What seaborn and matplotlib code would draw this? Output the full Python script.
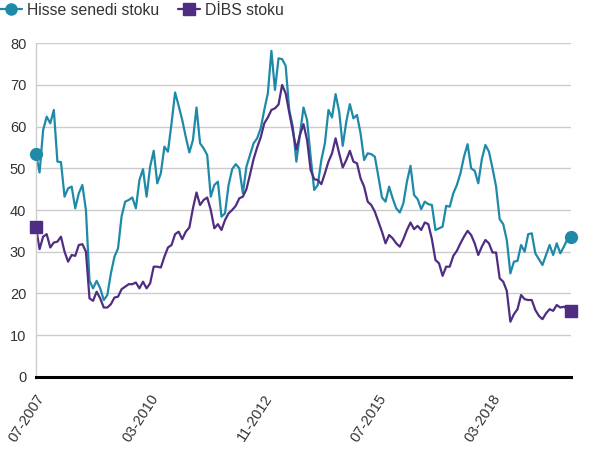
import matplotlib
matplotlib.use("Agg")
import matplotlib.pyplot as plt
import matplotlib.transforms as mtransforms
from matplotlib.lines import Line2D
import seaborn as sns
import pandas as pd
import numpy as np

# ---- data (monthly, 07-2007 .. 01-2020) ----
start_month = "2007-07-01"
series_names = ["Hisse senedi stoku", "DİBS stoku"]

hisse = [
    53.4, 49.0, 59.2, 62.4, 60.8, 64.0, 51.6, 51.5, 43.2, 45.2,
    45.6, 40.4, 44.0, 46.0, 40.0, 23.0, 21.2, 23.0, 21.2, 18.4,
    19.6, 24.8, 28.8, 30.8, 38.5, 42.0, 42.4, 43.0, 40.4, 47.2,
    49.8, 43.2, 50.4, 54.2, 46.4, 48.8, 55.2, 54.0, 60.8, 68.2,
    65.0, 61.6, 57.5, 53.8, 56.8, 64.6, 56.0, 54.8, 53.2, 43.2,
    46.0, 46.8, 38.4, 39.2, 46.0, 49.8, 51.0, 50.0, 44.0, 50.4,
    53.2, 56.0, 57.2, 59.6, 64.0, 68.0, 78.2, 68.8, 76.4, 76.2,
    74.6, 64.0, 60.0, 51.6, 58.0, 64.6, 61.6, 52.8, 44.8, 46.0,
    52.0, 56.0, 64.0, 62.2, 67.8, 63.6, 55.4, 61.2, 65.4, 62.0,
    62.8, 58.4, 52.0, 53.6, 53.4, 52.8, 48.0, 43.0, 42.0, 45.6,
    42.8, 40.4, 39.4, 41.6, 46.8, 50.6, 43.6, 42.6, 40.2, 42.0,
    41.4, 41.2, 35.2, 35.6, 36.0, 41.0, 40.8, 44.0, 46.0, 48.8,
    52.8, 55.8, 50.0, 49.4, 46.4, 52.2, 55.6, 54.0, 50.0, 45.6,
    37.8, 36.6, 32.8, 24.8, 27.6, 27.8, 31.6, 30.0, 34.2, 34.4,
    29.6, 28.2, 26.8, 29.2, 31.6, 29.2, 32.0, 29.6, 31.2, 33.0,
    33.6,
]

dibs = [
    35.9, 30.6, 33.6, 34.2, 31.0, 32.2, 32.4, 33.6, 30.0, 27.6,
    29.2, 29.0, 31.6, 31.8, 30.0, 18.8, 18.2, 20.4, 18.8, 16.6,
    16.6, 17.4, 19.0, 19.2, 21.0, 21.6, 22.2, 22.2, 22.6, 21.2,
    22.8, 21.2, 22.4, 26.4, 26.4, 26.2, 28.8, 31.0, 31.6, 34.2,
    34.8, 33.0, 34.8, 35.8, 40.4, 44.2, 41.2, 42.4, 43.0, 40.0,
    35.6, 36.6, 35.2, 37.6, 39.2, 40.0, 41.0, 42.8, 43.2, 45.0,
    48.5, 52.2, 55.0, 57.4, 60.8, 62.2, 64.0, 64.4, 65.3, 70.0,
    68.0, 63.4, 59.0, 54.5, 58.0, 60.6, 56.8, 49.6, 47.4, 47.2,
    46.2, 48.8, 51.6, 53.6, 57.2, 53.6, 50.2, 52.0, 54.2, 51.6,
    51.2, 47.6, 45.6, 42.0, 41.2, 39.6, 37.2, 34.8, 32.0, 34.0,
    33.2, 32.0, 31.2, 33.0, 35.2, 37.0, 35.4, 36.2, 35.2, 37.0,
    36.6, 33.0, 28.0, 27.2, 24.2, 26.4, 26.4, 29.0, 30.2, 32.0,
    33.6, 35.0, 34.0, 32.0, 29.2, 31.2, 32.8, 32.0, 29.8, 29.8,
    23.6, 22.8, 20.6, 13.2, 15.0, 16.2, 19.6, 18.6, 18.4, 18.4,
    16.0, 14.6, 13.8, 15.2, 16.2, 15.8, 17.2, 16.6, 16.8, 16.2,
    15.7,
]

tick_every = 32
y_ticks = [0, 10, 20, 30, 40, 50, 60, 70, 80]
colors = ["#1f8aa8", "#4f2d82"]

# ---- build frame ----
n = len(hisse)
assert len(dibs) == n
dates = pd.date_range(start_month, periods=n, freq="MS")
idx = np.arange(n)
df = pd.DataFrame({
    "i": np.concatenate([idx, idx]),
    "value": hisse + dibs,
    "series": [series_names[0]] * n + [series_names[1]] * n,
})

sns.set_theme(style="white")
plt.rcParams["font.family"] = ["Liberation Sans", "DejaVu Sans"]

fig = plt.figure(figsize=(5.92, 4.5), dpi=100)
ax = fig.add_axes([36 / 592, 1 - 376.7 / 450, (571 - 36) / 592, (376.7 - 43.3) / 450])

sns.lineplot(data=df, x="i", y="value", hue="series", palette=colors,
             linewidth=1.6, ax=ax, legend=False)

# end-point markers
mk = ["o", "s"]
for s, vals, c, m in zip(series_names, [hisse, dibs], colors, mk):
    ax.plot([idx[0], idx[-1]], [vals[0], vals[-1]], linestyle="none",
            marker=m, markersize=8.5, color=c, clip_on=False, zorder=5)

ax.set_xlim(0, n - 1)
ax.set_ylim(0, 80)
ax.set_yticks(y_ticks)
ax.set_yticklabels([str(v) for v in y_ticks], fontsize=10.5, color="#333333")
ax.yaxis.grid(True, color="#cccccc", linewidth=1)
ax.xaxis.grid(False)
ax.set_axisbelow(True)

xt = list(range(0, n, tick_every))
ax.set_xticks(xt)
ax.set_xticklabels([dates[k].strftime("%m-%Y") for k in xt], rotation=57,
                   ha="right", va="center", rotation_mode="anchor",
                   fontsize=10.5, color="#333333")
ax.tick_params(axis="x", length=0, pad=12)
ax.tick_params(axis="y", length=0, pad=7)
shift = mtransforms.ScaledTranslation(5 / 100, -2 / 100, fig.dpi_scale_trans)
for lbl in ax.get_xticklabels():
    lbl.set_transform(lbl.get_transform() + shift)

for side in ["top", "right"]:
    ax.spines[side].set_visible(False)
ax.spines["left"].set_color("#cccccc")
ax.spines["left"].set_linewidth(1)
ax.spines["bottom"].set_color("black")
ax.spines["bottom"].set_linewidth(2.2)
ax.set_xlabel("")
ax.set_ylabel("")

handles = [Line2D([0], [0], color=c, marker=m, markersize=8, linewidth=1.6)
           for c, m in zip(colors, mk)]
fig.legend(handles, series_names, loc="upper left", bbox_to_anchor=(0.0, 0.994),
           ncol=2, frameon=False, fontsize=11.3, handlelength=1.4,
           handletextpad=0.35, columnspacing=1.15, borderpad=0.0,
           borderaxespad=0.0, labelcolor="#333333")

fig.savefig("out.png", dpi=100)
